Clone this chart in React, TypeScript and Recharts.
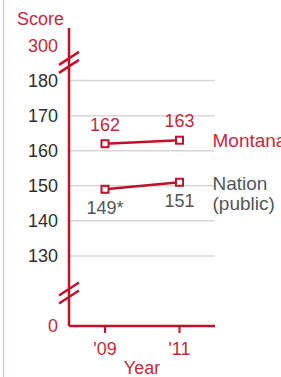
import React from "react";
import { LineChart, Line, XAxis, YAxis, ReferenceLine, LabelList } from "recharts";

const RED = "#c0102c";
const TEXT_RED = "#c42a3c";
const GRAY_TEXT = "#2e2e2e";
const LABEL_GRAY = "#555555";
const GRID = "#d6d6d6";

const years = ["'09", "'11"];
const montanaScores = [162, 163];
const nationScores = [149, 151];
const montanaLabels = ["162", "163"];
const nationLabels = ["149*", "151"];
const yTickValues = [110, 130, 140, 150, 160, 170, 180, 190];
const yTickLabels = ["0", "130", "140", "150", "160", "170", "180", "300"];
const breakTickValues = [110, 190];
const gridValues = [130, 140, 150, 160, 170, 180];
const breakValues = [185.2, 119.4];
const yDomain = [110, 195];
const seriesNames = { montana: ["Montana"], nation: ["Nation", "(public)"] };

const data = years.map((y, i) => ({ year: y, montana: montanaScores[i], nation: nationScores[i] }));

const FONT = "'Liberation Sans', Arial, Helvetica, sans-serif";

const YTick = (props: any) => {
  const { x, y, payload } = props;
  const i = yTickValues.indexOf(payload.value);
  const isBreak = breakTickValues.includes(payload.value);
  return (
    <text x={x} y={y} dy="0.35em" textAnchor="end" fill={isBreak ? TEXT_RED : GRAY_TEXT} fontSize={18} fontFamily={FONT}>
      {yTickLabels[i]}
    </text>
  );
};

const BreakMark = (props: any) => {
  const vb = props.viewBox || {};
  const x0 = vb.x;
  const y0 = vb.y;
  if (x0 == null || y0 == null) return null;
  return (
    <g>
      <rect x={x0 - 3} y={y0 - 4} width={6} height={8} fill="#ffffff" />
      <line x1={x0 - 10} y1={y0 - 4 + 6.5} x2={x0 + 10} y2={y0 - 4 - 6.5} stroke={RED} strokeWidth={2.5} />
      <line x1={x0 - 10} y1={y0 + 4 + 6.5} x2={x0 + 10} y2={y0 + 4 - 6.5} stroke={RED} strokeWidth={2.5} />
    </g>
  );
};

const ScoreLabel = (props: any) => {
  const vb = props.viewBox || {};
  if (vb.x == null || vb.y == null) return null;
  return (
    <text x={vb.x - 28.5} y={vb.y - 3.5} textAnchor="middle" fill={TEXT_RED} fontSize={18} fontFamily={FONT}>
      Score
    </text>
  );
};

const squareDot = (props: any) => {
  const { cx, cy, index } = props;
  if (cx == null || cy == null) return <g key={index} />;
  return <rect key={index} x={cx - 3.5} y={cy - 3.5} width={7} height={7} fill="#ffffff" stroke={RED} strokeWidth={2} />;
};

const valueLabel = (labels: string[], color: string, dy: number) => (props: any) => {
  const { x, y, index } = props;
  return (
    <text x={x} y={y} dy={dy} textAnchor="middle" fill={color} fontSize={18} fontFamily={FONT}>
      {labels[index]}
    </text>
  );
};

const nameLabel = (lines: string[], color: string, dy: number) => (props: any) => {
  const { x, y, index } = props;
  if (index !== years.length - 1) return null;
  return (
    <text x={x + 33} y={y} fill={color} fontSize={19} fontFamily={FONT}>
      {lines.map((l, k) => (
        <tspan key={k} x={x + 33} dy={k === 0 ? dy : 20}>
          {l}
        </tspan>
      ))}
    </text>
  );
};

export default function App() {
  return (
    <div style={{ position: "relative", width: 281, height: 377, background: "#ffffff", fontFamily: FONT, overflow: "hidden" }}>
      <style>{"body{margin:0;background:#fff;}"}</style>
      <div style={{ position: "absolute", left: 2.5, top: 0, width: 1.5, height: 377, background: "#f2b3b8" }} />
      <LineChart width={281} height={377} data={data} margin={{ top: 28, right: 66, bottom: 0, left: 0 }} style={{ fontFamily: FONT }}>
        {gridValues.map((v) => (
          <ReferenceLine key={v} y={v} stroke={GRID} strokeWidth={1.5} />
        ))}
        <XAxis
          dataKey="year"
          padding={{ left: 36, right: 35.5 }}
          height={51}
          axisLine={{ stroke: RED, strokeWidth: 2.5 }}
          tickLine={{ stroke: RED, strokeWidth: 2 }}
          tickSize={7}
          tickMargin={9}
          tick={{ fill: TEXT_RED, fontSize: 18, fontFamily: FONT }}
          label={{ value: "Year", position: "insideBottom", offset: 3, fill: TEXT_RED, fontSize: 18, fontFamily: FONT }}
        />
        <YAxis
          type="number"
          domain={yDomain}
          ticks={yTickValues}
          interval={0}
          width={69}
          axisLine={{ stroke: RED, strokeWidth: 2.5 }}
          tickLine={false}
          tickMargin={5}
          tick={<YTick />}
        />
        <Line dataKey="montana" stroke={RED} strokeWidth={2.5} dot={squareDot} isAnimationActive={false}>
          <LabelList dataKey="montana" content={valueLabel(montanaLabels, TEXT_RED, -13)} />
          <LabelList dataKey="montana" content={nameLabel(seriesNames.montana, TEXT_RED, 7)} />
        </Line>
        <Line dataKey="nation" stroke={RED} strokeWidth={2.5} dot={squareDot} isAnimationActive={false}>
          <LabelList dataKey="nation" content={valueLabel(nationLabels, LABEL_GRAY, 25)} />
          <LabelList dataKey="nation" content={nameLabel(seriesNames.nation, LABEL_GRAY, 8)} />
        </Line>
        {breakValues.map((v) => (
          <ReferenceLine key={"b" + v} y={v} stroke="none" ifOverflow="visible" label={(p: any) => <BreakMark {...p} />} />
        ))}
        <ReferenceLine y={yDomain[1]} stroke="none" ifOverflow="visible" label={(p: any) => <ScoreLabel {...p} />} />
      </LineChart>
    </div>
  );
}
